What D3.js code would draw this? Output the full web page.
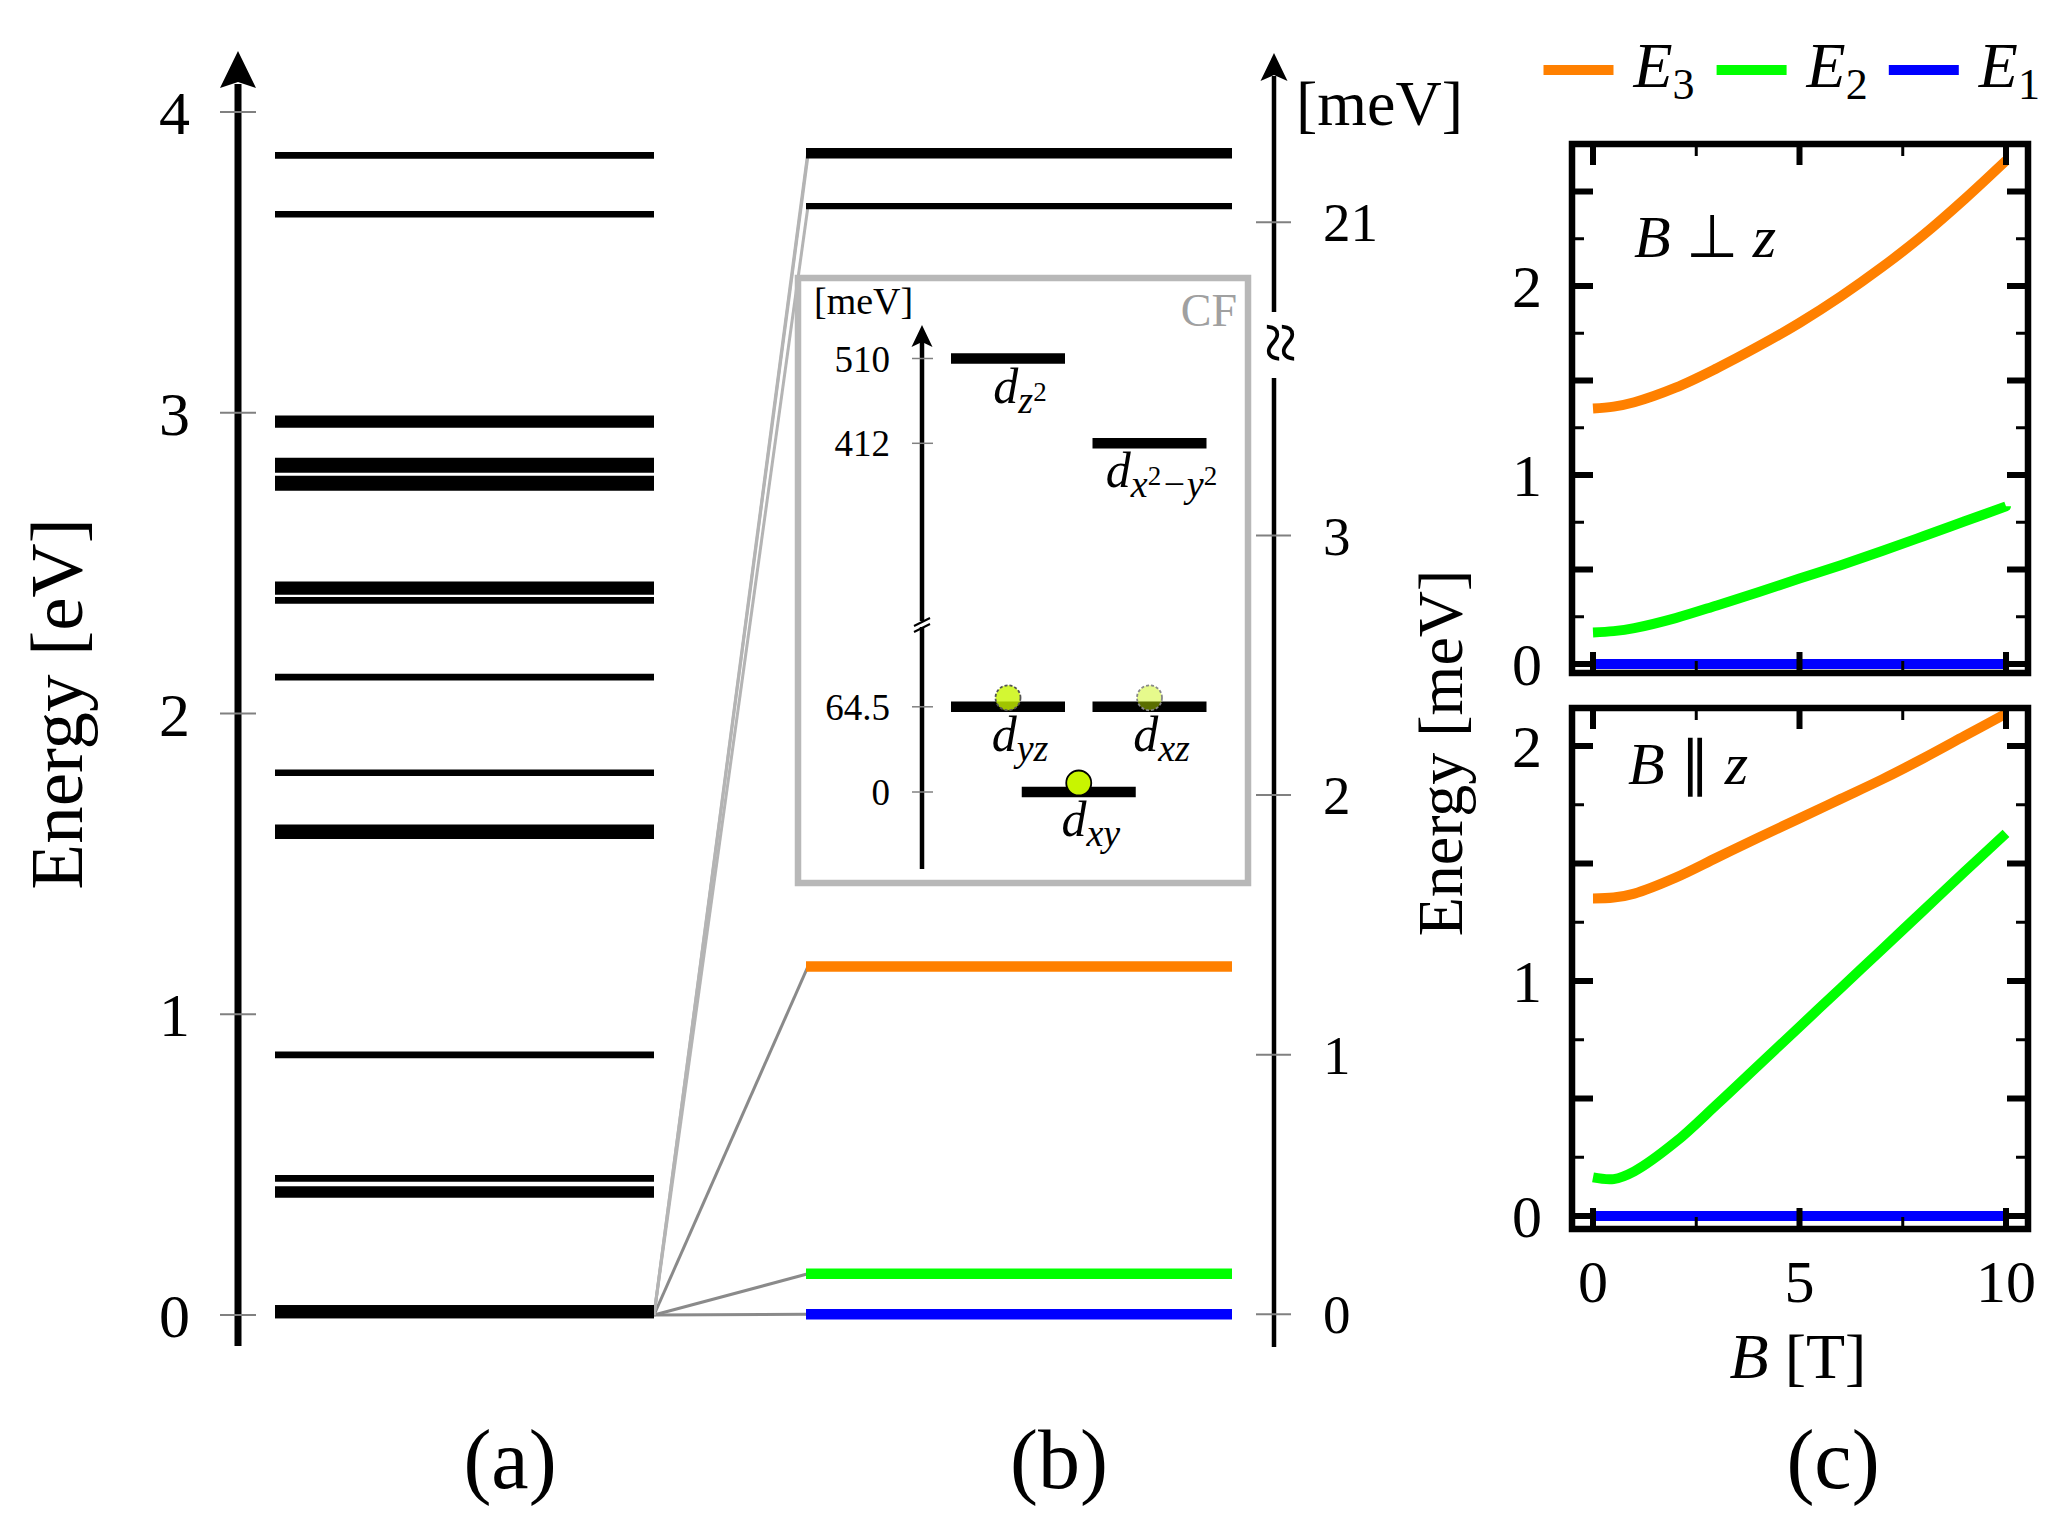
<!DOCTYPE html>
<html><head><meta charset="utf-8">
<script src="https://cdn.jsdelivr.net/npm/d3@7"></script>
<style>
body{margin:0;background:#fff}
svg{display:block}
text{font-family:"Liberation Serif","Times New Roman",serif;fill:#000}
</style>
</head><body>
<svg id="chart" width="2062" height="1524"></svg>
<script>
// ---------------- data ----------------
// panel (a): full spectrum [eV]
const aTicks = [0, 1, 2, 3, 4];
const groundMultipletMeV = [0, 0.156, 1.34, 21.062, 21.258, 21.274];
const higherLevelsEV = [0.401, 0.417, 0.454, 0.865, 1.594, 1.607, 1.620, 1.803, 2.121, 2.376,
  2.406, 2.417, 2.428, 2.752, 2.765, 2.779, 2.812, 2.825, 2.839, 2.961, 2.980, 3.660, 3.856];
// panel (b): ground multiplet [meV]
const bTicks = [0, 1, 2, 3, 21];
const bLevelColors = ["#0000ff", "#00ff00", "#ff8000", "#000000", "#000000", "#000000"];
// crystal-field inset
const cfOrbitals = ["xy", "yz", "xz", "x2-y2", "z2"];
const cfEnergies = [0, 64.5, 64.5, 412, 510];
const cfColumns = [0.5, 0, 1, 1, 0];
const cfTicks = [0, 64.5, 412, 510];
const cfTickLabels = ["0", "64.5", "412", "510"];
const electronOrbitals = ["xy", "yz", "xz"];
const electronWeights = [1, 0.8, 0.45];
// panel (c): Zeeman splitting
const fieldB = [0, 0.5, 1, 2, 3, 4, 5, 6, 7, 8, 9, 10];
const E3perp = [1.352, 1.362, 1.385, 1.462, 1.565, 1.68, 1.805, 1.945, 2.1, 2.27, 2.46, 2.663];
const E2perp = [0.167, 0.174, 0.19, 0.243, 0.31, 0.38, 0.452, 0.523, 0.598, 0.676, 0.755, 0.834];
const E1perp = [0, 0, 0, 0, 0, 0, 0, 0, 0, 0, 0, 0];
const E3par = [1.351, 1.355, 1.372, 1.44, 1.525, 1.61, 1.692, 1.775, 1.858, 1.948, 2.043, 2.138];
const E2par = [0.164, 0.157, 0.19, 0.315, 0.475, 0.64, 0.805, 0.97, 1.135, 1.30, 1.465, 1.628];
const E1par = [0, 0, 0, 0, 0, 0, 0, 0, 0, 0, 0, 0];
const cXTicks = [0, 5, 10];
const cXMinorTicks = [2.5, 7.5];
const cYTickLabels = [0, 1, 2];
const seriesNames = ["E3", "E2", "E1"];
const seriesColors = ["#ff8000", "#00ff00", "#0000ff"];

// ---------------- drawing ----------------
const svg = d3.select("#chart");
const grey = "#808080";

// ===== panel (a) =====
const ya = d3.scaleLinear().domain([0, 4]).range([1315, 112]);
const aAxisX = 238, aL = 275, aR = 654;
const aLevels = groundMultipletMeV.map(m => m / 1000).concat(higherLevelsEV);

svg.append("line").attr("x1", aAxisX).attr("x2", aAxisX).attr("y1", 1346).attr("y2", 84)
  .attr("stroke", "#000").attr("stroke-width", 7);
svg.append("path").attr("d", `M${aAxisX},51 L${aAxisX - 18},88 L${aAxisX},82 L${aAxisX + 18},88 Z`).attr("fill", "#000");
const aT = svg.append("g");
aT.selectAll("line").data(aTicks).join("line")
  .attr("x1", 220).attr("x2", 256).attr("y1", d => ya(d)).attr("y2", d => ya(d))
  .attr("stroke", grey).attr("stroke-width", 2);
aT.selectAll("text").data(aTicks).join("text")
  .attr("x", 190).attr("y", d => ya(d) + 22).attr("text-anchor", "end")
  .attr("font-size", 62).text(d => d);
svg.append("text").attr("transform", "translate(82,704) rotate(-90)")
  .attr("text-anchor", "middle").attr("font-size", 75).text("Energy [eV]");

// ===== panel (b) =====
const yb = d3.scaleLinear().domain([0, 3, 21, 22]).range([1314.3, 535.5, 222.3, 222.3 - 259.6]);
const bL = 806, bR = 1232, bAxisX = 1274;

// connectors
svg.append("g").selectAll("line").data(groundMultipletMeV).join("line")
  .attr("x1", aR).attr("y1", ya(0)).attr("x2", bL + 2).attr("y2", d => yb(d))
  .attr("stroke", (d, i) => i >= 3 ? "#b4b4b4" : "#8a8a8a").attr("stroke-width", 3);

// levels (a)
svg.append("g").selectAll("line").data(aLevels).join("line")
  .attr("x1", aL).attr("x2", aR).attr("y1", d => ya(d)).attr("y2", d => ya(d))
  .attr("stroke", "#000").attr("stroke-width", 6.7);

// levels (b)
svg.append("g").selectAll("line").data(groundMultipletMeV).join("line")
  .attr("x1", bL).attr("x2", bR).attr("y1", d => yb(d)).attr("y2", d => yb(d))
  .attr("stroke", (d, i) => bLevelColors[i]).attr("stroke-width", (d, i) => i < 3 ? 10.5 : 6.3);

// axis (b) with break
svg.append("line").attr("x1", bAxisX).attr("x2", bAxisX).attr("y1", 1347).attr("y2", 378)
  .attr("stroke", "#000").attr("stroke-width", 4.5);
svg.append("line").attr("x1", bAxisX).attr("x2", bAxisX).attr("y1", 312).attr("y2", 76)
  .attr("stroke", "#000").attr("stroke-width", 4.5);
svg.append("path").attr("d", `M${bAxisX},53 L${bAxisX - 13.5},81 L${bAxisX},75 L${bAxisX + 13.5},81 Z`).attr("fill", "#000");
svg.append("text").attr("transform", `translate(${bAxisX - 18},343) rotate(90)`)
  .attr("text-anchor", "middle").attr("font-size", 74).text("≈");
const bT = svg.append("g");
bT.selectAll("line").data(bTicks).join("line")
  .attr("x1", 1256).attr("x2", 1291).attr("y1", d => yb(d)).attr("y2", d => yb(d))
  .attr("stroke", grey).attr("stroke-width", 2);
bT.selectAll("text").data(bTicks).join("text")
  .attr("x", 1323).attr("y", d => yb(d) + 19).attr("font-size", 55).text(d => d);
svg.append("text").attr("x", 1296).attr("y", 125).attr("font-size", 64).text("[meV]");

// ===== CF inset =====
svg.append("rect").attr("x", 798).attr("y", 278).attr("width", 450).attr("height", 605)
  .attr("fill", "#fff").attr("stroke", "#b8b8b8").attr("stroke-width", 6.5);
const yi = d3.scaleLinear().domain([0, 64.5, 412, 510]).range([792, 706.8, 443.3, 358.5]);
const iAxisX = 922;
svg.append("line").attr("x1", iAxisX).attr("x2", iAxisX).attr("y1", 869).attr("y2", 342)
  .attr("stroke", "#000").attr("stroke-width", 4.5);
svg.append("path").attr("d", `M${iAxisX},325 L${iAxisX - 10.5},347 L${iAxisX},342 L${iAxisX + 10.5},347 Z`).attr("fill", "#000");
// break marks
svg.append("rect").attr("x", iAxisX - 4).attr("y", 621).attr("width", 8).attr("height", 6).attr("fill", "#fff");
[-3, 3].forEach(o => svg.append("line").attr("x1", iAxisX - 8).attr("y1", 625 + o + 4).attr("x2", iAxisX + 8).attr("y2", 625 + o - 4)
  .attr("stroke", "#000").attr("stroke-width", 2));
const iT = svg.append("g");
iT.selectAll("line").data(cfTicks).join("line")
  .attr("x1", 912).attr("x2", 933).attr("y1", d => yi(d)).attr("y2", d => yi(d))
  .attr("stroke", grey).attr("stroke-width", 1.5);
iT.selectAll("text").data(cfTicks).join("text")
  .attr("x", 890).attr("y", d => yi(d) + 13).attr("text-anchor", "end")
  .attr("font-size", 37).text((d, i) => cfTickLabels[i]);
svg.append("text").attr("x", 814).attr("y", 314).attr("font-size", 38).text("[meV]");
svg.append("text").attr("x", 1237).attr("y", 326).attr("text-anchor", "end")
  .attr("font-size", 46).style("fill", "#a0a0a0").text("CF");

const colX = d3.scaleLinear().domain([0, 1]).range([1008, 1149.5]);
const barHalf = 57;
const orbIdx = name => cfOrbitals.indexOf(name);
svg.append("g").selectAll("line").data(cfOrbitals).join("line")
  .attr("x1", (d, i) => colX(cfColumns[i]) - barHalf).attr("x2", (d, i) => colX(cfColumns[i]) + barHalf)
  .attr("y1", (d, i) => yi(cfEnergies[i])).attr("y2", (d, i) => yi(cfEnergies[i]))
  .attr("stroke", "#000").attr("stroke-width", 10.5);

// orbital labels
const subParts = {
  "xy": [["sub", "xy"]],
  "yz": [["sub", "yz"]],
  "xz": [["sub", "xz"]],
  "x2-y2": [["sub", "x"], ["sup", "2"], ["sub", "−y"], ["sup", "2"]],
  "z2": [["sub", "z"], ["sup", "2"]]
};
cfOrbitals.forEach((name, i) => {
  const t = svg.append("text").attr("x", colX(cfColumns[i]) + 12).attr("y", yi(cfEnergies[i]) + 44)
    .attr("text-anchor", "middle").attr("font-size", 50);
  t.append("tspan").attr("font-style", "italic").text("d");
  let level = 0;
  subParts[name].forEach(([kind, s]) => {
    const target = kind === "sub" ? 10 : -2;
    t.append("tspan").attr("dy", target - level)
      .attr("font-size", kind === "sub" ? 38 : 27)
      .attr("font-style", /\d/.test(s) ? "normal" : "italic").text(s);
    level = target;
  });
});

// electrons
svg.append("g").selectAll("circle").data(electronOrbitals).join("circle")
  .attr("cx", d => colX(cfColumns[orbIdx(d)]))
  .attr("cy", d => yi(cfEnergies[orbIdx(d)]) - 9)
  .attr("r", 12.5)
  .attr("fill", "#c8f500")
  .attr("fill-opacity", (d, i) => electronWeights[i])
  .attr("stroke", (d, i) => i === 0 ? "#000" : (i === 1 ? "#555" : "#888"))
  .attr("stroke-width", 1.8)
  .attr("stroke-dasharray", (d, i) => i === 0 ? null : "3,2");

// panel labels
[["(a)", 510], ["(b)", 1059], ["(c)", 1833]].forEach(([s, x]) =>
  svg.append("text").attr("x", x).attr("y", 1488).attr("text-anchor", "middle").attr("font-size", 84).text(s));

// ===== panel (c) =====
const xc = d3.scaleLinear().domain([0, 10]).range([1593, 2006]);
const boxL = 1572, boxR = 2028;
const cPanels = [
  { top: 144, bottom: 673, y0: 664, y2: 286, series: [E3perp, E2perp, E1perp], sym: " ⊥ ", lx: 1634, ly: 257, xLabels: false },
  { top: 708, bottom: 1229, y0: 1216, y2: 746, series: [E3par, E2par, E1par], sym: " ∥ ", lx: 1628, ly: 784, xLabels: true }
];
cPanels.forEach(p => {
  const yc = d3.scaleLinear().domain([0, 2]).range([p.y0, p.y2]);
  const g = svg.append("g");
  const line = d3.line().x((d, i) => xc(fieldB[i])).y(d => yc(d)).curve(d3.curveCatmullRom.alpha(0.5));
  g.selectAll("path.curve").data(p.series).join("path").attr("class", "curve")
    .attr("d", d => line(d)).attr("fill", "none")
    .attr("stroke", (d, i) => seriesColors[i]).attr("stroke-width", 10);
  // ticks
  const eMax = yc.invert(p.top + 8);
  const majY = d3.range(0, eMax, 0.5), minY = d3.range(0.25, eMax, 0.5);
  const tickG = g.append("g").attr("stroke", "#000");
  [[majY, 21, 6], [minY, 12, 3]].forEach(([vals, len, w]) => {
    vals.forEach(v => {
      tickG.append("line").attr("x1", boxL).attr("x2", boxL + len).attr("y1", yc(v)).attr("y2", yc(v)).attr("stroke-width", w);
      tickG.append("line").attr("x1", boxR - len).attr("x2", boxR).attr("y1", yc(v)).attr("y2", yc(v)).attr("stroke-width", w);
    });
  });
  [[cXTicks, 21, 6], [cXMinorTicks, 12, 3]].forEach(([vals, len, w]) => {
    vals.forEach(v => {
      tickG.append("line").attr("x1", xc(v)).attr("x2", xc(v)).attr("y1", p.top).attr("y2", p.top + len).attr("stroke-width", w);
      tickG.append("line").attr("x1", xc(v)).attr("x2", xc(v)).attr("y1", p.bottom - len).attr("y2", p.bottom).attr("stroke-width", w);
    });
  });
  g.append("rect").attr("x", boxL).attr("y", p.top).attr("width", boxR - boxL).attr("height", p.bottom - p.top)
    .attr("fill", "none").attr("stroke", "#000").attr("stroke-width", 6.5);
  g.selectAll("text.yt").data(cYTickLabels).join("text").attr("class", "yt")
    .attr("x", 1542).attr("y", d => yc(d) + 21).attr("text-anchor", "end").attr("font-size", 60).text(d => d);
  const t = g.append("text").attr("x", p.lx).attr("y", p.ly).attr("font-size", 60);
  t.append("tspan").attr("font-style", "italic").text("B");
  t.append("tspan").text(p.sym);
  t.append("tspan").attr("font-style", "italic").text("z");
  if (p.xLabels) {
    g.selectAll("text.xt").data(cXTicks).join("text").attr("class", "xt")
      .attr("x", d => xc(d)).attr("y", 1302).attr("text-anchor", "middle").attr("font-size", 60).text(d => d);
  }
});
const bl = svg.append("text").attr("x", 1798).attr("y", 1378).attr("text-anchor", "middle").attr("font-size", 64);
bl.append("tspan").attr("font-style", "italic").text("B");
bl.append("tspan").text(" [T]");
svg.append("text").attr("transform", "translate(1462,753) rotate(-90)")
  .attr("text-anchor", "middle").attr("font-size", 64).text("Energy [meV]");

// legend
const legX = [1543.5, 1716.6, 1888.8];
seriesNames.forEach((n, i) => {
  svg.append("line").attr("x1", legX[i]).attr("x2", legX[i] + 70).attr("y1", 70).attr("y2", 70)
    .attr("stroke", seriesColors[i]).attr("stroke-width", 10);
  const t = svg.append("text").attr("x", legX[i] + 90).attr("y", 87).attr("font-size", 64);
  t.append("tspan").attr("font-style", "italic").text(n[0]);
  t.append("tspan").attr("font-size", 44).attr("dy", 12).text(n.slice(1));
});
</script>
</body></html>
